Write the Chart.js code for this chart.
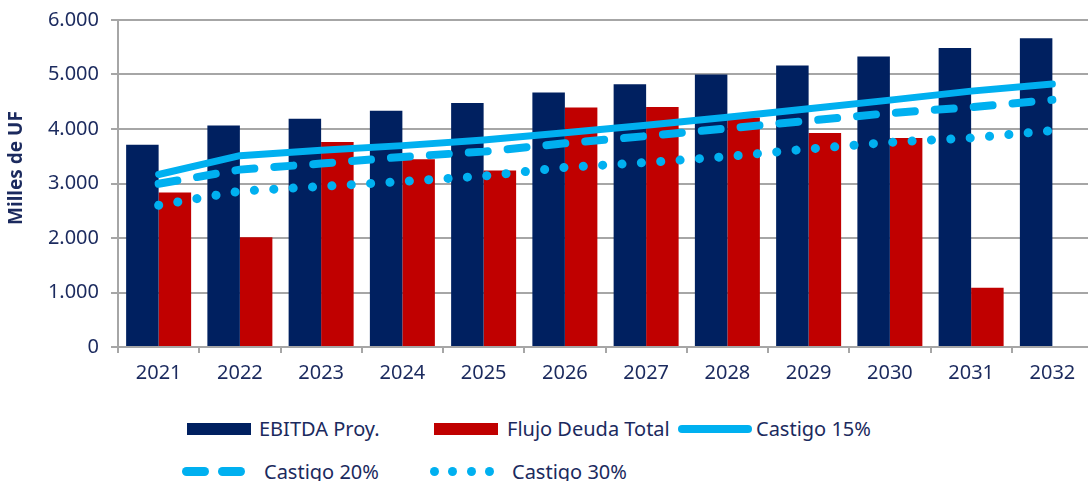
<!DOCTYPE html>
<html>
<head>
<meta charset="utf-8">
<script src="https://cdn.jsdelivr.net/npm/chart.js@4.4.1/dist/chart.umd.min.js"></script>
<style>
  html, body { margin: 0; padding: 0; background: #ffffff; overflow: hidden; width: 1088px; height: 481px; }
  #wrap { position: absolute; left: 0; top: -4px; width: 1100px; height: 400px; }
  .lg { position: absolute; font-family: "Noto Sans", sans-serif; font-size: 20px; color: #1B2A5E; height: 24px; line-height: 24px; white-space: nowrap; }
  .sw { position: absolute; }
</style>
</head>
<body>
<div id="wrap"><canvas id="c"></canvas></div>

<div class="sw" style="left:187px;top:423px;width:64px;height:12px;background:#002060"></div>
<div class="lg" style="left:259px;top:417px">EBITDA Proy.</div>
<div class="sw" style="left:434px;top:423px;width:64px;height:12px;background:#C00000"></div>
<div class="lg" style="left:507px;top:417px">Flujo Deuda Total</div>
<div class="sw" style="left:678px;top:425px;width:74px;height:8px;border-radius:4px;background:#00B0F0"></div>
<div class="lg" style="left:756px;top:417px">Castigo 15%</div>

<div class="sw" style="left:182px;top:467px;width:27px;height:9px;border-radius:4.5px;background:#00B0F0"></div>
<div class="sw" style="left:218px;top:467px;width:27px;height:9px;border-radius:4.5px;background:#00B0F0"></div>
<div class="lg" style="left:264px;top:460px">Castigo 20%</div>
<div class="sw" style="left:430px;top:467px;width:9px;height:9px;border-radius:4.5px;background:#00B0F0"></div>
<div class="sw" style="left:448px;top:467px;width:9px;height:9px;border-radius:4.5px;background:#00B0F0"></div>
<div class="sw" style="left:467px;top:467px;width:9px;height:9px;border-radius:4.5px;background:#00B0F0"></div>
<div class="sw" style="left:485px;top:467px;width:9px;height:9px;border-radius:4.5px;background:#00B0F0"></div>
<div class="lg" style="left:512px;top:460px">Castigo 30%</div>

<script>
const years = ['2021','2022','2023','2024','2025','2026','2027','2028','2029','2030','2031','2032'];
const ebitda = [3710, 4066, 4189, 4335, 4476, 4670, 4823, 5000, 5164, 5329, 5487, 5665];
const flujoDeuda = [2835, 2012, 3762, 3445, 3238, 4396, 4403, 4213, 3926, 3836, 1085, null];
const castigo15 = [3165, 3510, 3610, 3695, 3800, 3930, 4070, 4215, 4370, 4530, 4695, 4825];
const castigo20 = [2995, 3255, 3366, 3488, 3585, 3737, 3870, 4011, 4152, 4292, 4400, 4536];
const castigo30 = [2600, 2860, 2945, 3036, 3137, 3296, 3384, 3494, 3634, 3756, 3836, 3970];
const yTickLabels = ['0', '1.000', '2.000', '3.000', '4.000', '5.000', '6.000'];
const yTitle = 'Milles de UF';

const TEXT = '#1B2A5E';
const GRID = '#A6A6A6';

const yTitlePlugin = {
  id: 'yTitle',
  afterDraw(chart) {
    const ctx = chart.ctx;
    ctx.save();
    ctx.translate(17, 172);
    ctx.rotate(-Math.PI / 2);
    ctx.font = 'bold 19px "Noto Sans", sans-serif';
    ctx.fillStyle = TEXT;
    ctx.textAlign = 'center';
    ctx.textBaseline = 'middle';
    ctx.fillText(yTitle, 0, 0);
    ctx.restore();
  }
};

new Chart(document.getElementById('c'), {
  type: 'bar',
  data: {
    labels: years,
    datasets: [
      { type: 'line', label: 'Castigo 15%', data: castigo15, borderColor: '#00B0F0', borderWidth: 7,
        pointRadius: 0, tension: 0, borderCapStyle: 'round', borderJoinStyle: 'round', order: 0, fill: false },
      { type: 'line', label: 'Castigo 20%', data: castigo20, borderColor: '#00B0F0', borderWidth: 8,
        borderDash: [19, 20], pointRadius: 0, tension: 0, borderCapStyle: 'round', order: 0, fill: false },
      { type: 'line', label: 'Castigo 30%', data: castigo30, borderColor: '#00B0F0', borderWidth: 9,
        borderDash: [0.1, 19.3], pointRadius: 0, tension: 0, borderCapStyle: 'round', order: 0, fill: false },
      { label: 'EBITDA Proy.', data: ebitda, backgroundColor: '#002060', borderWidth: 0,
        categoryPercentage: 0.8, barPercentage: 1.0, order: 1 },
      { label: 'Flujo Deuda Total', data: flujoDeuda, backgroundColor: '#C00000', borderWidth: 0,
        categoryPercentage: 0.8, barPercentage: 1.0, order: 1 }
    ]
  },
  options: {
    responsive: true,
    maintainAspectRatio: false,
    animation: false,
    layout: { padding: { top: 15, right: 7, left: 0, bottom: 0 } },
    plugins: { legend: { display: false }, tooltip: { enabled: false } },
    scales: {
      x: {
        offset: true,
        grid: { display: true, drawOnChartArea: false, drawTicks: true, tickLength: 6, color: GRID, lineWidth: 2, offset: true },
        border: { display: true, color: GRID, width: 2 },
        ticks: { color: TEXT, font: { family: '"Noto Sans", sans-serif', size: 20 }, padding: 8, maxRotation: 0, autoSkip: false },
        afterFit(scale) { scale.height = 49; }
      },
      y: {
        min: 0, max: 6000,
        grid: { color: GRID, lineWidth: 2, drawTicks: true, tickLength: 7 },
        border: { display: true, color: GRID, width: 2 },
        ticks: {
          stepSize: 1000, color: TEXT, padding: 12,
          font: { family: '"Noto Sans", sans-serif', size: 20 },
          callback: (v, i) => yTickLabels[i]
        },
        afterFit(scale) { scale.width = 118; }
      }
    }
  },
  plugins: [yTitlePlugin]
});
</script>
</body>
</html>
